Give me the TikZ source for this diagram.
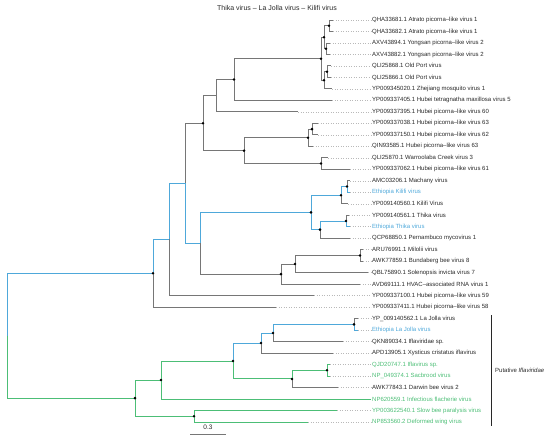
\documentclass[tikz,border=0pt]{standalone}
\usepackage{fontspec}
\setmainfont{Liberation Sans}
\definecolor{iflblue}{RGB}{78,168,218}
\definecolor{iflgreen}{RGB}{76,190,118}
\definecolor{brgray}{RGB}{118,118,118}
\definecolor{lblgray}{RGB}{40,40,40}

\begin{document}
\begin{tikzpicture}[x=1pt, y=-1pt,
    br/.style={draw=brgray, line width=0.9pt},
    brblue/.style={draw=iflblue, line width=0.9pt},
    brgreen/.style={draw=iflgreen, line width=0.9pt},
    leader/.style={draw=gray!55, dotted, line width=0.5pt},
    leaf/.style={anchor=west, inner xsep=1pt, inner ysep=0pt, font=\fontsize{6}{7}\selectfont}]
    \useasboundingbox (0, 0) rectangle (550, 444);
    \node[text=lblgray, font=\fontsize{7}{8}\selectfont] (title) at (277, 8) {Thika virus -- La Jolla virus -- Kilifi virus};

    % leaves: index / tip x / label / colour
    \foreach \i/\tx/\lab/\col in {
        1/333/QHA33681.1 Atrato picorna--like virus 1/lblgray,
        2/333/QHA33682.1 Atrato picorna--like virus 1/lblgray,
        3/330/AXV43894.1 Yongsan picorna--like virus 2/lblgray,
        4/330/AXV43882.1 Yongsan picorna--like virus 2/lblgray,
        5/331/QLI25868.1 Old Port virus/lblgray,
        6/331/QLI25866.1 Old Port virus/lblgray,
        7/332/YP009345020.1 Zhejiang mosquito virus 1/lblgray,
        8/332/YP009337405.1 Hubei tetragnatha maxillosa virus 5/lblgray,
        9/298/YP009337395.1 Hubei picorna--like virus 60/lblgray,
        10/318/YP009337038.1 Hubei picorna--like virus 63/lblgray,
        11/318/YP009337150.1 Hubei picorna--like virus 62/lblgray,
        12/313/QIN93585.1 Hubei picorna--like virus 63/lblgray,
        13/328/QLI25870.1 Warroolaba Creek virus 3/lblgray,
        14/350/YP009337062.1 Hubei picorna--like virus 61/lblgray,
        15/350/AMC03206.1 Machany virus/lblgray,
        16/350/Ethiopia Kilifi virus/iflblue,
        17/348/YP009140560.1 Kilifi Virus/lblgray,
        18/349/YP009140561.1 Thika virus/lblgray,
        19/350/Ethiopia Thika virus/iflblue,
        20/350/QCP68850.1 Pernambuco mycovirus 1/lblgray,
        21/363/ARU76991.1 Milolii virus/lblgray,
        22/363/AWK77859.1 Bundaberg bee virus 8/lblgray,
        23/368/QBL75890.1 Solenopsis invicta virus 7/lblgray,
        24/360/AVD69111.1 HVAC--associated RNA virus 1/lblgray,
        25/314/YP009337100.1 Hubei picorna--like virus 59/lblgray,
        26/276/YP009337411.1 Hubei picorna--like virus 58/lblgray,
        27/358/YP\_009140562.1 La Jolla virus/lblgray,
        28/358/Ethiopia La Jolla virus/iflblue,
        29/343/QKN89034.1 Iflaviridae sp./lblgray,
        30/333/APD13905.1 Xysticus cristatus iflavirus/lblgray,
        31/330/QJD20747.1 Iflavirus sp./iflgreen,
        32/330/NP\_049374.1 Sacbrood virus/iflgreen,
        33/338/AWK77843.1 Darwin bee virus 2/lblgray,
        34/371/NP620559.1 Infectious flacherie virus/iflgreen,
        35/337/YP003622540.1 Slow bee paralysis virus/iflgreen,
        36/308/NP853560.2 Deformed wing virus/iflgreen}{
        \pgfmathsetmacro\y{20 + (\i - 1) * 11.486}
        \coordinate (t\i) at (\tx, \y);
        \node[leaf, text=\col] (l\i) at (371, \y) {\lab};
        \draw[leader] (t\i) -- (l\i.west);
    }

    % internal nodes
    \coordinate (atrato) at (329, 25.75);
    \coordinate (yongsan) at (326, 48.72);
    \coordinate (atr-yong) at (324, 37.23);
    \coordinate (oldport) at (327, 71.69);
    \coordinate (oldport-zj) at (324, 80.30);
    \coordinate (mosq) at (321, 58.77);
    \coordinate (mosq-hubei5) at (234, 79.59);
    \coordinate (hubei60) at (216, 95.74);
    \coordinate (hubei62) at (312, 129.12);
    \coordinate (hubei63) at (308, 137.73);
    \coordinate (warroolaba) at (321, 163.57);
    \coordinate (hubei-clade) at (244, 150.65);
    \coordinate (upper) at (203, 123.20);
    \coordinate (kilifi) at (347, 186.55);
    \coordinate (kilifi-clade) at (341, 195.16);
    \coordinate (thika) at (346, 221.01);
    \coordinate (thika-clade) at (320, 229.62);
    \coordinate (kt) at (311, 212.39);
    \coordinate (milolii) at (360, 255.46);
    \coordinate (solenopsis) at (295, 264.08);
    \coordinate (hvac) at (281, 274.13);
    \coordinate (kt-hvac) at (200, 243.26);
    \coordinate (core) at (185, 183.23);
    \coordinate (hubei59) at (169, 239.45);
    \coordinate (hubei58) at (153, 273.30);
    \coordinate (lajolla) at (354, 324.38);
    \coordinate (lajolla-clade) at (273, 332.99);
    \coordinate (xysticus) at (261, 343.04);
    \coordinate (sacbrood) at (327, 370.32);
    \coordinate (darwin) at (292, 378.94);
    \coordinate (ifla-core) at (233, 360.99);
    \coordinate (flacherie) at (161, 380.02);
    \coordinate (dwv) at (194, 416.27);
    \coordinate (ifla) at (135, 398.14);
    \coordinate (root) at (7, 335.72);

    % branches
    \foreach \p/\c in {atrato/t1, atrato/t2, yongsan/t3, yongsan/t4, atr-yong/atrato, atr-yong/yongsan,
        oldport/t5, oldport/t6, oldport-zj/oldport, oldport-zj/t7, mosq/atr-yong, mosq/oldport-zj,
        mosq-hubei5/mosq, mosq-hubei5/t8, hubei60/mosq-hubei5, hubei60/t9,
        hubei62/t10, hubei62/t11, hubei63/hubei62, hubei63/t12, warroolaba/t13, warroolaba/t14,
        hubei-clade/hubei63, hubei-clade/warroolaba, upper/hubei60, upper/hubei-clade, core/upper,
        kilifi/t15, kilifi-clade/t17, thika/t18, thika-clade/t20,
        milolii/t21, milolii/t22, solenopsis/milolii, solenopsis/t23, hvac/solenopsis, hvac/t24,
        kt-hvac/hvac, hubei59/t25, hubei58/t26,
        lajolla/t27, lajolla-clade/t29, xysticus/t30, darwin/t33}
        \draw[br] (\p) |- (\c);
    \foreach \p/\c in {root/hubei58, hubei58/hubei59, hubei59/core, core/kt-hvac, kt-hvac/kt,
        kt/kilifi-clade, kt/thika-clade, kilifi-clade/kilifi, kilifi/t16, thika-clade/thika, thika/t19,
        ifla-core/xysticus, xysticus/lajolla-clade, lajolla-clade/lajolla, lajolla/t28}
        \draw[brblue] (\p) |- (\c);
    \foreach \p/\c in {root/ifla, ifla/flacherie, ifla/dwv, flacherie/ifla-core, flacherie/t34,
        ifla-core/darwin, darwin/sacbrood, sacbrood/t31, sacbrood/t32, dwv/t35, dwv/t36}
        \draw[brgreen] (\p) |- (\c);

    % supported nodes
    \foreach \n in {atrato, yongsan, atr-yong, oldport, oldport-zj, mosq, mosq-hubei5, upper,
        hubei-clade, hubei62, hubei63, warroolaba, hubei58, kt, kilifi-clade, kilifi, thika-clade,
        thika, hvac, solenopsis, milolii, ifla, flacherie, ifla-core, xysticus, lajolla-clade,
        lajolla, darwin, sacbrood, dwv}
        \fill (\n) circle (1.4);

    % clade bracket
    \coordinate (brk-top) at (491, 315);
    \coordinate (brk-bot) at (491, 426);
    \draw[lblgray, line width=0.6pt] (brk-top) -- (brk-bot);
    \node[leaf, text=lblgray] (putative) at (494, 370.5) {Putative \textit{Iflaviridae}};

    % scale bar
    \coordinate (bar-l) at (190, 434);
    \coordinate (bar-r) at (226, 434);
    \draw[br, line width=1pt] (bar-l) -- node[above=0.5pt, text=lblgray, font=\fontsize{6.5}{7}\selectfont] (bar-lab) {0.3} (bar-r);
\end{tikzpicture}
\end{document}
